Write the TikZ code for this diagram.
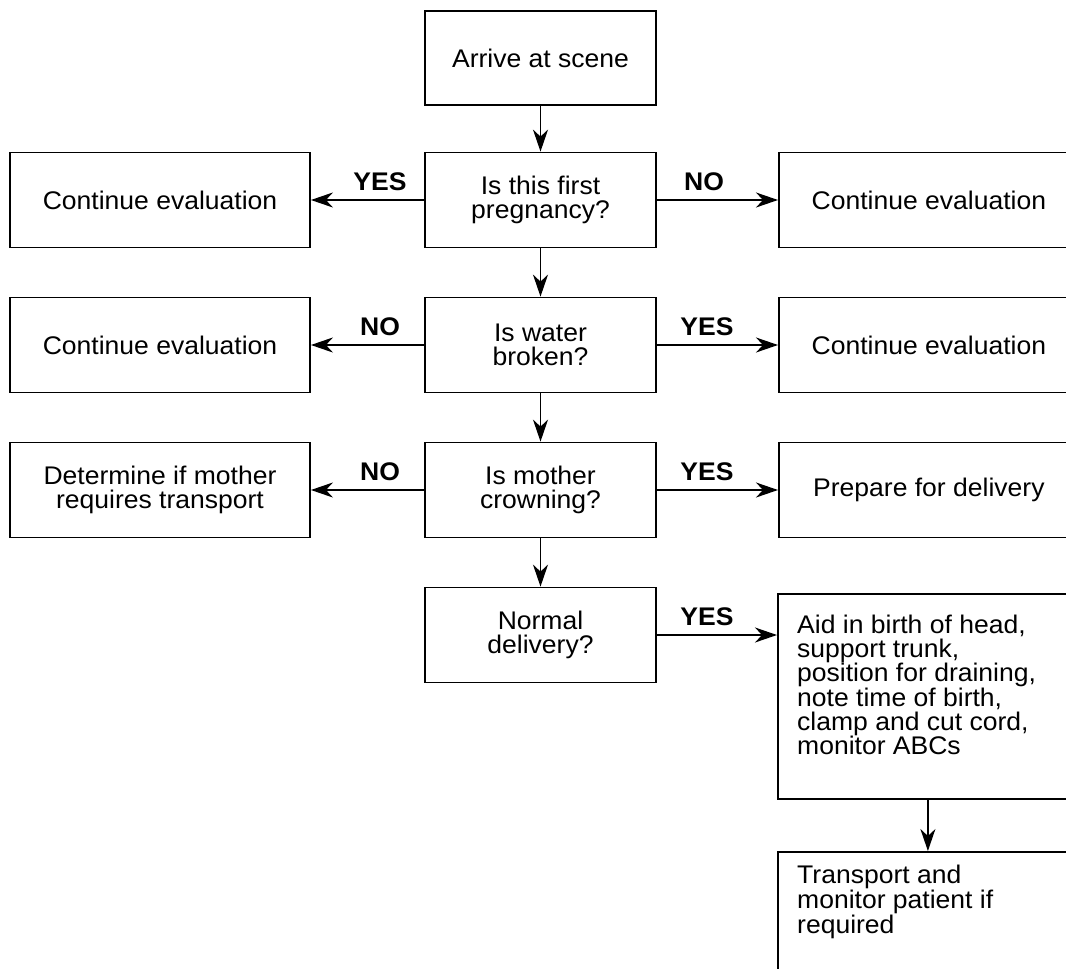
\documentclass[tikz,border=0pt]{standalone}
\usepackage{fontspec}
\setmainfont{Liberation Sans}[FakeStretch=1.04]
\usetikzlibrary{arrows.meta}

\begin{document}
\begin{tikzpicture}[x=1pt,y=-1pt,
  every node/.style={font=\fontsize{25.5}{23.4}\selectfont},
  box/.style={draw, line width=1.8pt, inner sep=0pt, align=center, minimum height=95pt},
  midbox/.style={box, minimum width=231pt},
  sidebox/.style={box, minimum width=300pt},
  txt/.style={inner sep=0pt, align=left, anchor=north west},
  lbl/.style={font=\fontsize{25.5}{23.4}\selectfont\bfseries, anchor=base, inner sep=0pt},
  flow/.style={line width=1.8pt, -{Stealth[length=22pt,width=15pt,inset=7pt]}}
]
\useasboundingbox (0,0) rectangle (1066,969);
\clip (0,0) rectangle (1066,969);

% central column
\node[midbox, minimum height=94pt] (arrive) at (540.5,58) {Arrive at scene};
\node[midbox] (q1) at (540.5,200) {Is this first\\pregnancy?};
\node[midbox] (q2) at (540.5,345) {Is water\\broken?};
\node[midbox] (q3) at (540.5,490) {Is mother\\crowning?};
\node[midbox] (q4) at (540.5,635) {Normal\\delivery?};

% left column
\node[sidebox] (l1) at (160,200) {Continue evaluation};
\node[sidebox] (l2) at (160,345) {Continue evaluation};
\node[sidebox] (l3) at (160,490) {Determine if mother\\requires transport};

% right column (runs past the right edge)
\node[sidebox, anchor=west] (r1) at (778,200) {Continue evaluation};
\node[sidebox, anchor=west] (r2) at (778,345) {Continue evaluation};
\node[sidebox, anchor=west] (r3) at (778,490) {Prepare for delivery};

% delivery steps
\node[box, minimum width=300pt, minimum height=205pt, anchor=north west] (aid) at (777,593) {};
\node[txt] (aidtxt) at (797,615) {Aid in birth of head,\\support trunk,\\position for draining,\\note time of birth,\\clamp and cut cord,\\monitor ABCs};
\node[box, minimum width=300pt, minimum height=160pt, anchor=north west] (trans) at (777,851) {};
\node[txt] (transtxt) at (797,865) {Transport and\\monitor patient if\\required};

% vertical flow
\draw[flow] (arrive.south) -- (q1.north);
\draw[flow] (q1.south) -- (q2.north);
\draw[flow] (q2.south) -- (q3.north);
\draw[flow] (q3.south) -- (q4.north);
\draw[flow] (aid.south) -- (trans.north);

% branches
\draw[flow] (q1.west) -- (l1.east);
\draw[flow] (q1.east) -- (r1.west);
\draw[flow] (q2.west) -- (l2.east);
\draw[flow] (q2.east) -- (r2.west);
\draw[flow] (q3.west) -- (l3.east);
\draw[flow] (q3.east) -- (r3.west);
\draw[flow] (q4.east) -- (aid.west |- q4.east);

% branch labels
\node[lbl] (y1) at (380,190) {YES};
\node[lbl] (n1) at (704,190) {NO};
\node[lbl] (n2) at (380,335) {NO};
\node[lbl] (y2) at (707,335) {YES};
\node[lbl] (n3) at (380,480) {NO};
\node[lbl] (y3) at (707,480) {YES};
\node[lbl] (y4) at (707,625) {YES};
\end{tikzpicture}
\end{document}
